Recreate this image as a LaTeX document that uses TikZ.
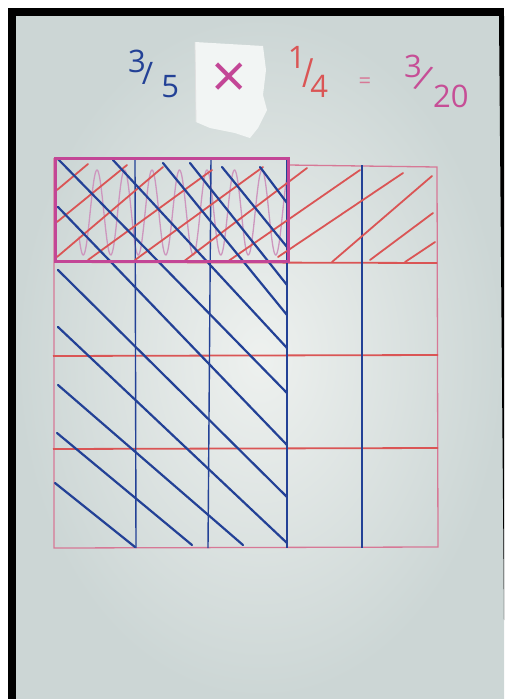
\documentclass[tikz,border=0pt]{standalone}
\usepackage{fontspec}
\usepackage{graphicx}
\setmainfont{Open Sans}
\definecolor{paperL}{RGB}{238,241,239}
\definecolor{paperD}{RGB}{204,214,213}
\definecolor{penblue}{RGB}{35,65,150}
\definecolor{penred}{RGB}{218,85,85}
\definecolor{penpink}{RGB}{215,120,150}
\definecolor{penmag}{RGB}{195,70,150}
\definecolor{coilc}{RGB}{205,150,190}
\definecolor{tapec}{RGB}{242,245,244}
\begin{document}
\begin{tikzpicture}[x=1pt,y=-1pt,
  blueline/.style={penblue, line width=2.2pt, line cap=round},
  bluevert/.style={penblue, line width=1.4pt},
  redhatch/.style={penred, line width=1.8pt, line cap=round},
  redrule/.style={penred, line width=1.8pt},
  border/.style={penpink, line width=1.3pt},
  frac/.style={inner sep=0pt, anchor=base west, font=\fontsize{31}{31}\selectfont}]
\useasboundingbox (0,0) rectangle (504,699);
\fill[white] (0,0) rectangle (504,699);
\shade[inner color=paperL, outer color=paperD] (16,16) rectangle (504,699);
\fill[black] (8,8) rectangle (504,16);
\fill[black] (8,8) rectangle (16,699);
\fill[black] (499,16) -- (504,16) -- (504,620) -- cycle;
% tape
\fill[tapec] (195,42) -- (263,46) -- (266,70) -- (263,95) -- (267,110) -- (258,128) -- (250,138) -- (235,133) -- (210,128) -- (196,122) -- cycle;
\draw[black!12, line width=0.8pt] (195,42) -- (196,122);
% equation
\node[frac, penblue] (fa) at (128,84) {\raisebox{12pt}{3}\kern-4pt/\kern8pt\raisebox{-13pt}{5}};
\node[inner sep=0pt, font=\fontsize{62}{62}\selectfont, penmag] (times) at (229,81) {×};
\node[frac, penred] (fb) at (287.6,84) {\raisebox{16pt}{1}\kern-3.5pt\raisebox{-3pt}{\scalebox{1}[1.3]{/}}\kern-3pt\raisebox{-13pt}{4}};
\node[inner sep=0pt, font=\fontsize{22}{22}\selectfont, penpink] (eq) at (365,83) {=};
\node[frac, penmag!85!penpink] (fc) at (404,92) {\raisebox{15pt}{3}\kern-8.7pt\rotatebox[origin=c]{-22}{\scalebox{1}[1.2]{/}}\kern-0.7pt\raisebox{-15pt}{20}};
% coil
\draw[coilc, line width=1.3pt, domain=79:287, samples=300, smooth] plot (\x, {212.5-42.5*cos(13.0909*(\x-97))});
% grid
\draw[border] (288,165) -- (437,167) -- (438,547) -- (54,548) -- (54,158);
\draw[redrule] (55,262) -- (437,263);
\draw[redrule] (53,356) -- (438,355);
\draw[redrule] (53,449) -- (438,448);
\draw[bluevert] (135,158) -- (136,548);
\draw[bluevert] (211,158) -- (208,548);
\draw[bluevert] (287,158) -- (287,548);
\draw[bluevert] (362,165) -- (362,548);
% red hatching
\foreach \a/\b/\c/\d in {57/190/88/164, 57/222/127/165, 57/257/163/167, 88/260/212/170,
  135/260/263/167, 183/262/307/168, 227/262/360/170, 278/257/403/173, 332/262/432/176,
  370/260/433/213, 405/262/435/242}
  \draw[redhatch] (\a,\b) -- (\c,\d);
% blue hatching
\foreach \a/\b/\c/\d in {57/158/287/393, 113/160/287/348, 163/163/287/315, 190/163/287/285,
  222/167/287/247, 260/167/287/203, 58/207/287/445, 58/270/287/497, 58/327/287/543,
  58/385/243/545, 57/433/192/545, 55/483/135/547}
  \draw[blueline] (\a,\b) -- (\c,\d);
% product rectangle
\draw[penmag, line width=3pt] (55,158) rectangle (288,261);
\end{tikzpicture}
\end{document}
